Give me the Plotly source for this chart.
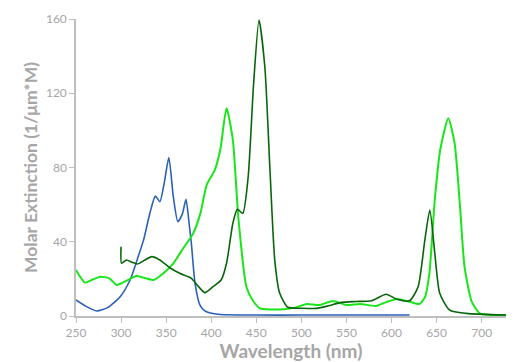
import plotly.graph_objects as go

# Blue series (wavelength nm, molar extinction)
blue_x = [250, 260, 273, 285, 299, 310, 319, 325, 332, 338, 343, 348, 353, 358, 363, 368, 372, 375, 378, 382, 387.5, 393, 399, 410, 450, 500, 550, 600, 620]
blue_y = [8.6, 5.5, 2.7, 4.5, 10.4, 19.4, 32, 41, 55.5, 64.6, 61.6, 72, 85.3, 64, 50.8, 55, 62.9, 52, 39, 17.7, 5.9, 2.8, 1.6, 0.8, 0.5, 0.5, 0.5, 0.5, 0.5]

# Bright green series
lime_x = [250, 260, 268, 277, 287, 295, 300, 308, 317, 326, 336, 347, 358, 369, 380, 388, 395, 404, 410, 417, 424, 430, 439, 446, 454, 467, 480, 493, 506, 520, 535, 550, 565, 583, 594, 606, 620, 631, 637, 642, 648, 654, 663, 670, 676, 681, 689, 698, 710, 727]
lime_y = [24.8, 18, 19.5, 21.2, 20.3, 16.7, 17.6, 19.5, 21.5, 20.5, 19.4, 23, 28.4, 36.5, 44.5, 55.3, 70.6, 78.7, 89.4, 111.9, 94.8, 53.5, 15.8, 8.5, 4.1, 3.5, 3.6, 4.5, 6.5, 5.9, 8.1, 5.9, 6.5, 5.4, 7.5, 9.2, 7.7, 6.5, 10, 23, 62.5, 89.4, 106.5, 93, 58.9, 26.6, 7.7, 1.4, 0.6, 0.5]

# Dark green series
dark_x = [300, 300.5, 306, 312, 318, 326, 334, 343, 354, 365, 378, 386, 393, 402, 411, 417, 424, 429, 435, 441, 447, 453, 459.5, 465, 470.5, 476, 485, 500, 517, 530, 543, 560, 578, 594, 606, 620, 629.5, 637, 642.5, 648, 653.5, 664.5, 683, 727]
dark_y = [37.3, 28.4, 30.2, 29, 28, 30, 32, 30.2, 26, 23, 20.3, 15.8, 12.6, 15.8, 19.4, 28.4, 50, 57.5, 55.3, 75, 125, 159.5, 134, 80.4, 30, 12.2, 4.7, 4.2, 4.1, 5.5, 7.2, 7.8, 8.2, 11.7, 9, 8.2, 15.8, 41, 57.1, 33.9, 12.2, 3.2, 1.4, 0.5]

x_ticks = [250, 300, 350, 400, 450, 500, 550, 600, 650, 700]
y_ticks = [0, 40, 80, 120, 160]

fig = go.Figure()
fig.add_trace(go.Scatter(x=blue_x, y=blue_y, mode="lines",
                         line=dict(color="#2C62B6", width=1.6, shape="spline", smoothing=0.6)))
fig.add_trace(go.Scatter(x=lime_x, y=lime_y, mode="lines",
                         line=dict(color="#19E619", width=2, shape="spline", smoothing=0.6)))
fig.add_trace(go.Scatter(x=dark_x, y=dark_y, mode="lines",
                         line=dict(color="#08660A", width=1.6, shape="spline", smoothing=0.6)))

axis_col = "#BFBFBF"
txt_col = "#A6A6A6"
fig.update_layout(
    width=520, height=354,
    margin=dict(l=68, r=22, t=11, b=46),
    paper_bgcolor="white", plot_bgcolor="white",
    showlegend=False,
    font=dict(family="Lato, Open Sans, sans-serif", color=txt_col),
    xaxis=dict(range=[250, 727], tickvals=x_ticks, showgrid=False, zeroline=False,
               showline=True, linecolor=axis_col, linewidth=1.5, automargin=False,
               ticks="outside", ticklen=5, tickcolor=axis_col,
               tickfont=dict(size=12, color=txt_col),
               title=dict(text="<b>Wavelength (nm)</b>", font=dict(size=19, color=txt_col), standoff=2)),
    yaxis=dict(range=[0, 160], tickvals=y_ticks, showgrid=False, zeroline=False,
               showline=True, linecolor=axis_col, linewidth=1.5, automargin=False,
               ticks="outside", ticklen=5, tickcolor=axis_col,
               tickfont=dict(size=12, color=txt_col),
               title=dict(text="<b>Molar Extinction (1/μm*M)</b>", font=dict(size=17.5, color=txt_col), standoff=4)),
)
fig.write_html("out.html")
